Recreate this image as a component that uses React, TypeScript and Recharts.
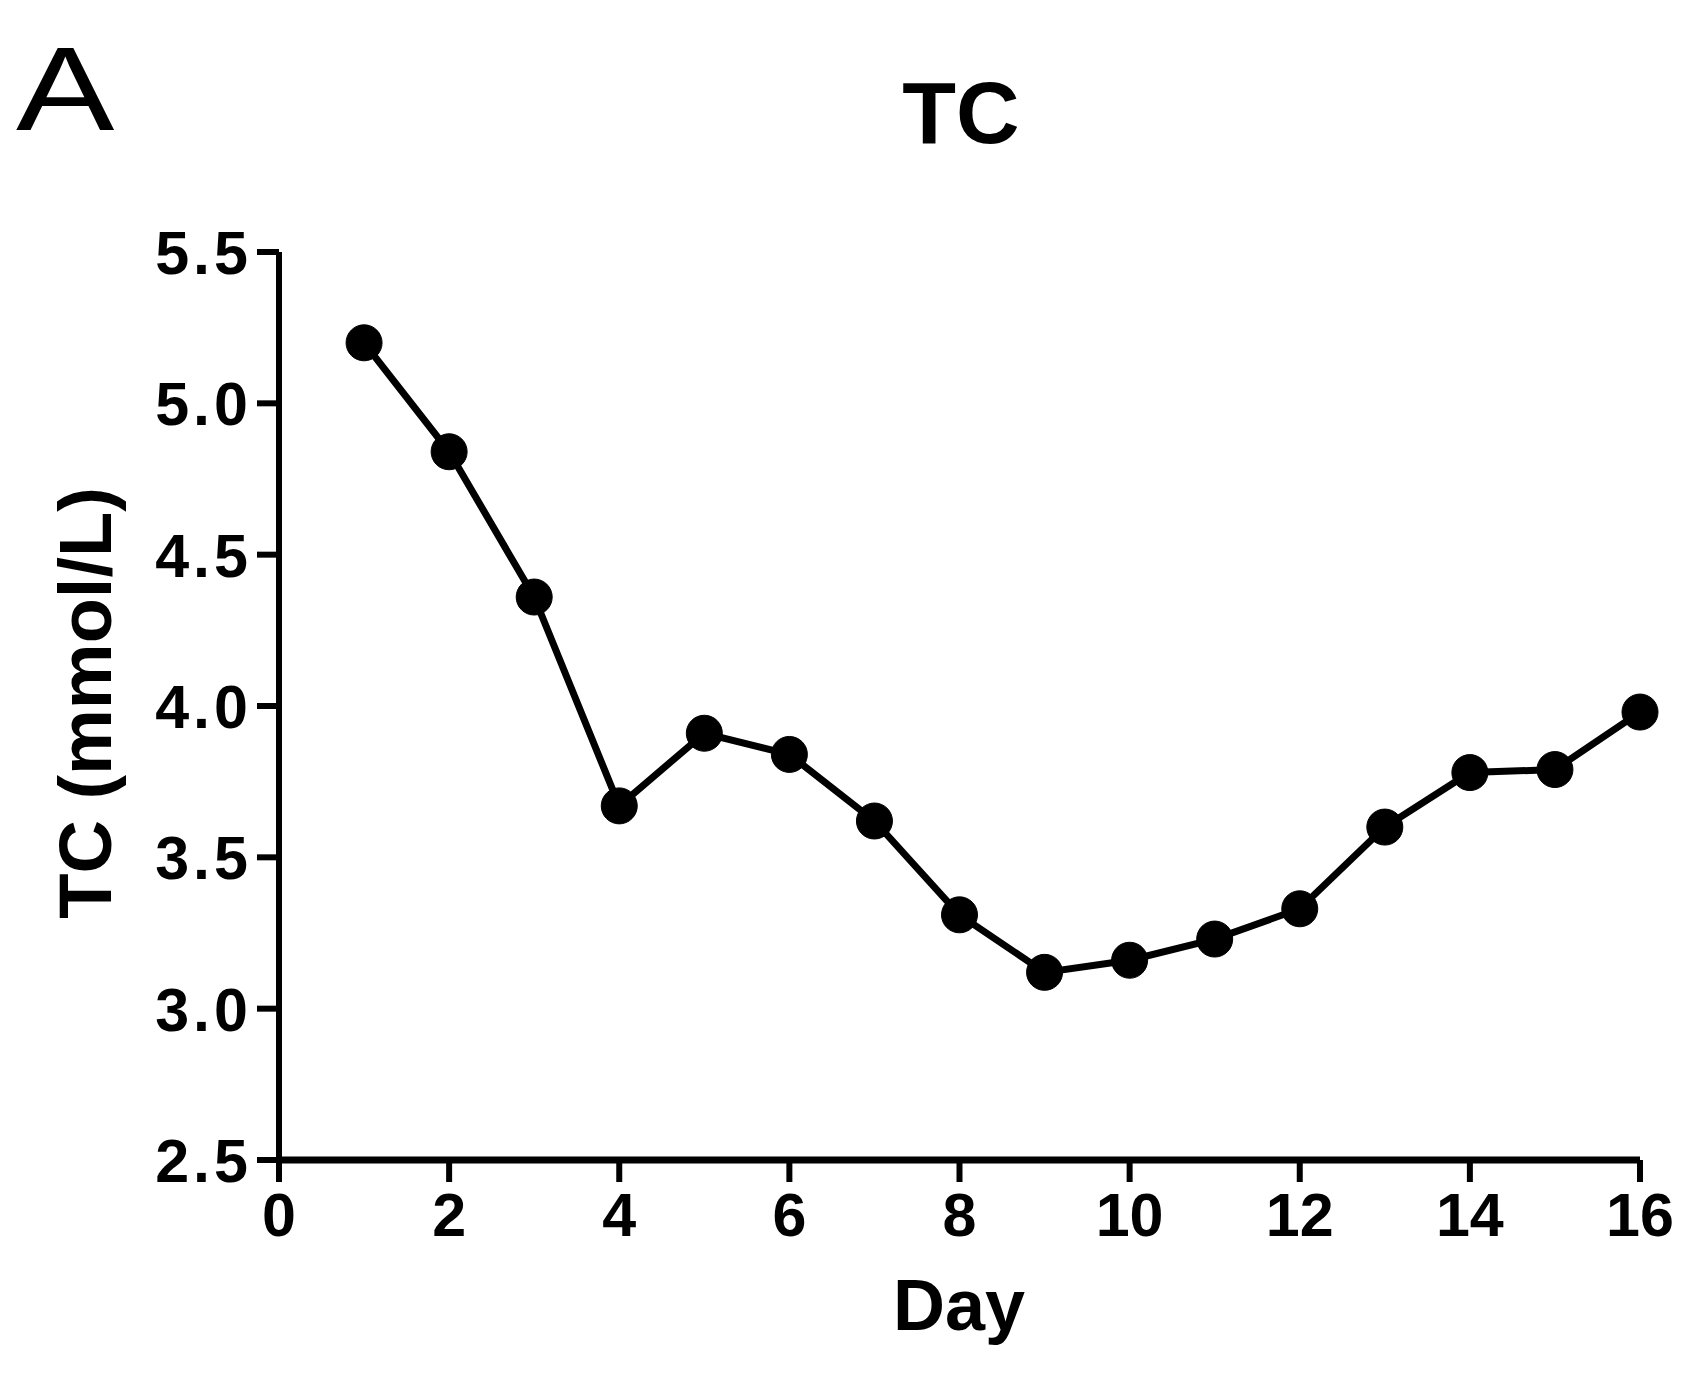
import React from 'react';
import { LineChart, Line, XAxis, YAxis } from 'recharts';

const days = [1, 2, 3, 4, 5, 6, 7, 8, 9, 10, 11, 12, 13, 14, 15, 16];
const tcValues = [5.2, 4.84, 4.36, 3.67, 3.91, 3.84, 3.62, 3.31, 3.12, 3.16, 3.23, 3.33, 3.6, 3.78, 3.79, 3.98];
const xTicks = [0, 2, 4, 6, 8, 10, 12, 14, 16];
const yTicks = [2.5, 3.0, 3.5, 4.0, 4.5, 5.0, 5.5];

const data = days.map((d, i) => ({ day: d, tc: tcValues[i] }));

const FONT = '"Liberation Sans", Arial, sans-serif';

const YTick = (props: any) => {
  const { x, y, payload } = props;
  return (
    <text x={x} y={y} dy="0.36em" textAnchor="end" fontFamily={FONT} fontWeight="bold" fontSize={61} fill="#000" letterSpacing={4}>
      {Number(payload.value).toFixed(1)}
    </text>
  );
};

const XTick = (props: any) => {
  const { x, y, payload } = props;
  return (
    <text x={x} y={y} dy="0.72em" textAnchor="middle" fontFamily={FONT} fontWeight="bold" fontSize={61} fill="#000">
      {payload.value}
    </text>
  );
};

export default function App() {
  return (
    <div style={{ position: 'absolute', left: 0, top: 0, width: 1682, height: 1376, background: '#fff', fontFamily: FONT }}>
      <LineChart width={1682} height={1376} data={data} margin={{ top: 252, right: 42, bottom: 96, left: 119 }}>
        <XAxis
          dataKey="day"
          type="number"
          domain={[0, 16]}
          ticks={xTicks}
          height={120}
          tickSize={22}
          tickMargin={10}
          axisLine={{ stroke: '#000', strokeWidth: 7 }}
          tickLine={{ stroke: '#000', strokeWidth: 6 }}
          tick={<XTick />}
        />
        <YAxis
          type="number"
          domain={[2.5, 5.5]}
          ticks={yTicks}
          width={160}
          tickSize={22}
          tickMargin={5}
          axisLine={{ stroke: '#000', strokeWidth: 6 }}
          tickLine={{ stroke: '#000', strokeWidth: 6 }}
          tick={<YTick />}
        />
        <Line
          type="linear"
          dataKey="tc"
          stroke="#000"
          strokeWidth={7}
          dot={{ r: 18, fill: '#000', stroke: '#000', strokeWidth: 1 }}
          isAnimationActive={false}
        />
      </LineChart>
      <div style={{ position: 'absolute', left: 16, top: 30, fontSize: 118, lineHeight: 1, transform: 'scaleX(1.25)', transformOrigin: 'left top', color: '#000' }}>A</div>
      <div style={{ position: 'absolute', left: 961, top: 113, transform: 'translate(-50%, -50%)', fontSize: 88, fontWeight: 'bold', lineHeight: 1, whiteSpace: 'nowrap' }}>TC</div>
      <div style={{ position: 'absolute', left: 959, top: 1305, transform: 'translate(-50%, -50%)', fontSize: 72, fontWeight: 'bold', lineHeight: 1, whiteSpace: 'nowrap' }}>Day</div>
      <div style={{ position: 'absolute', left: 86, top: 703, transform: 'translate(-50%, -50%) rotate(-90deg)', fontSize: 74, fontWeight: 'bold', lineHeight: 1, whiteSpace: 'nowrap' }}>TC (mmol/L)</div>
    </div>
  );
}
